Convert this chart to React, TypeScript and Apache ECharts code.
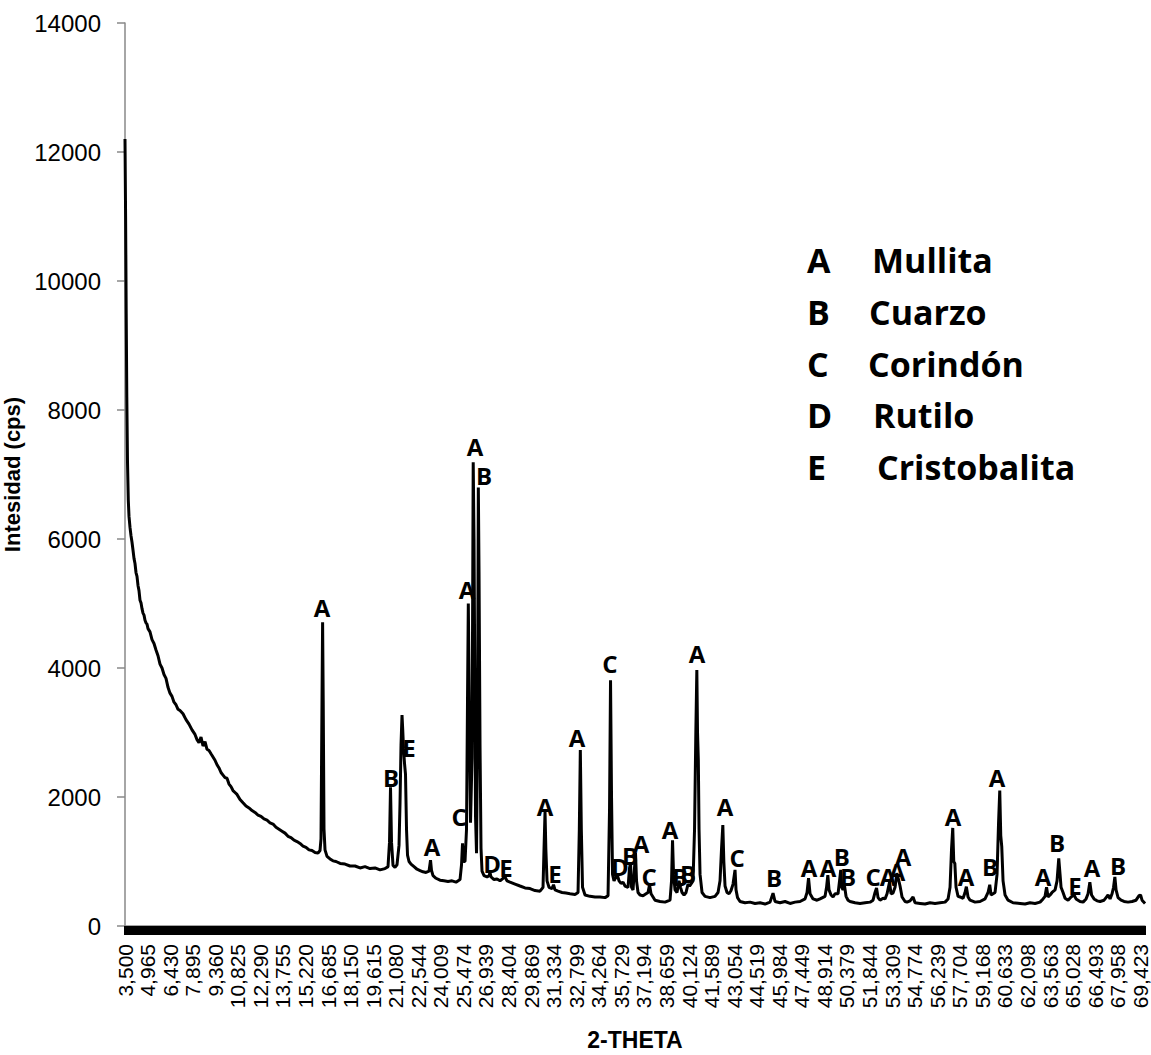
import React, { useEffect, useRef } from "react";
import * as echarts from "echarts";

// X-axis tick labels (2-theta, degrees)
const xTickLabels = [
  "3,500", "4,965", "6,430", "7,895", "9,360", "10,825", "12,290", "13,755", "15,220", "16,685",
  "18,150", "19,615", "21,080", "22,544", "24,009", "25,474", "26,939", "28,404", "29,869", "31,334",
  "32,799", "34,264", "35,729", "37,194", "38,659", "40,124", "41,589", "43,054", "44,519", "45,984",
  "47,449", "48,914", "50,379", "51,844", "53,309", "54,774", "56,239", "57,704", "59,168", "60,633",
  "62,098", "63,563", "65,028", "66,493", "67,958", "69,423",
];

// Diffraction pattern: [2-theta, intensity (cps)]
const pattern: [number, number][] = [
  [3.5, 12200], [3.539, 11000], [3.578, 9500], [3.617, 8200], [3.662, 7200], [3.714, 6600], [3.76, 6350], [3.825, 6180], [3.89, 6050], [3.955, 5950],
  [4.019, 5830], [4.084, 5700], [4.149, 5620], [4.214, 5480], [4.279, 5420], [4.344, 5280], [4.409, 5200], [4.474, 5050], [4.539, 5010], [4.604, 4920],
  [4.669, 4850], [4.734, 4820], [4.799, 4740], [4.864, 4700], [4.929, 4680], [4.994, 4610], [5.123, 4560], [5.253, 4440], [5.383, 4380], [5.513, 4280],
  [5.643, 4190], [5.773, 4060], [5.903, 4000], [6.032, 3900], [6.162, 3840], [6.292, 3700], [6.422, 3610], [6.552, 3560], [6.682, 3470], [6.812, 3430],
  [6.942, 3360], [7.071, 3340], [7.266, 3290], [7.461, 3200], [7.656, 3130], [7.851, 3040], [8.045, 2970], [8.175, 2890], [8.305, 2840], [8.435, 2930],
  [8.565, 2790], [8.695, 2860], [8.825, 2740], [8.955, 2720], [9.084, 2670], [9.214, 2620], [9.344, 2570], [9.474, 2500], [9.604, 2450], [9.734, 2380],
  [9.864, 2340], [9.994, 2300], [10.123, 2290], [10.253, 2200], [10.383, 2160], [10.513, 2100], [10.643, 2070], [10.773, 2040], [10.968, 1960], [11.162, 1910],
  [11.357, 1860], [11.552, 1830], [11.747, 1790], [11.942, 1760], [12.136, 1720], [12.331, 1700], [12.526, 1660], [12.721, 1640], [12.916, 1600], [13.11, 1580],
  [13.305, 1530], [13.5, 1500], [13.695, 1470], [13.89, 1440], [14.084, 1390], [14.279, 1370], [14.474, 1330], [14.669, 1310], [14.864, 1280], [15.058, 1240],
  [15.253, 1220], [15.448, 1180], [15.643, 1170], [15.838, 1140], [16.032, 1130], [16.162, 1170], [16.227, 1350], [16.292, 3500], [16.331, 4710], [16.37, 3500],
  [16.422, 1500], [16.487, 1180], [16.617, 1080], [16.812, 1040], [17.006, 1010], [17.201, 1000], [17.468, 970], [17.786, 960], [18.11, 930], [18.435, 930],
  [18.76, 900], [19.084, 920], [19.409, 890], [19.734, 900], [20.058, 870], [20.383, 890], [20.578, 920], [20.675, 1300], [20.74, 2150], [20.805, 1300],
  [20.903, 940], [21.032, 910], [21.162, 950], [21.292, 1250], [21.357, 1900], [21.422, 2800], [21.487, 3270], [21.532, 3050], [21.584, 2750], [21.649, 2520],
  [21.714, 2350], [21.779, 1500], [21.844, 1100], [21.942, 1000], [22.071, 960], [22.266, 920], [22.461, 880], [22.656, 860], [22.851, 840], [23.045, 830],
  [23.24, 850], [23.338, 1020], [23.403, 860], [23.5, 780], [23.695, 740], [23.955, 710], [24.214, 700], [24.474, 690], [24.734, 700], [24.994, 680],
  [25.253, 720], [25.351, 950], [25.416, 1280], [25.481, 1000], [25.578, 1000], [25.675, 1500], [25.74, 3500], [25.792, 5000], [25.851, 3500], [25.935, 1600],
  [26.032, 2600], [26.11, 7190], [26.162, 6000], [26.26, 1700], [26.325, 1130], [26.39, 3000], [26.442, 6800], [26.487, 5500], [26.552, 2800], [26.617, 1200],
  [26.682, 850], [26.812, 780], [27.006, 760], [27.136, 780], [27.201, 830], [27.266, 760], [27.461, 720], [27.656, 730], [27.851, 700], [28.045, 740],
  [28.175, 760], [28.305, 700], [28.5, 680], [28.825, 650], [29.149, 620], [29.474, 590], [29.799, 580], [30.123, 550], [30.448, 540], [30.643, 600],
  [30.708, 1200], [30.773, 1770], [30.825, 1200], [30.903, 700], [31.032, 600], [31.227, 580], [31.325, 640], [31.422, 560], [31.617, 540], [31.877, 520],
  [32.136, 510], [32.396, 500], [32.721, 490], [32.916, 520], [33.0, 1500], [33.065, 2730], [33.13, 1500], [33.208, 600], [33.37, 480], [33.695, 460],
  [34.019, 450], [34.344, 450], [34.669, 440], [34.864, 470], [34.961, 1800], [35.026, 3810], [35.091, 2000], [35.156, 800], [35.253, 700], [35.383, 760],
  [35.481, 780], [35.578, 700], [35.708, 660], [35.838, 680], [35.968, 620], [36.162, 600], [36.26, 900], [36.325, 980], [36.39, 600], [36.487, 560],
  [36.584, 900], [36.649, 1130], [36.714, 700], [36.812, 520], [36.942, 480], [37.136, 470], [37.331, 500], [37.461, 520], [37.558, 640], [37.656, 500],
  [37.916, 400], [38.24, 380], [38.565, 370], [38.89, 400], [38.987, 700], [39.052, 1330], [39.117, 800], [39.214, 560], [39.344, 520], [39.474, 700],
  [39.571, 600], [39.669, 520], [39.799, 480], [39.929, 520], [40.058, 650], [40.156, 620], [40.253, 650], [40.383, 700], [40.481, 1500], [40.565, 3000],
  [40.63, 3970], [40.675, 3000], [40.727, 2570], [40.773, 1500], [40.838, 800], [40.968, 520], [41.162, 460], [41.487, 440], [41.812, 460], [42.006, 520],
  [42.136, 700], [42.234, 1200], [42.318, 1565], [42.383, 1000], [42.461, 620], [42.591, 520], [42.721, 500], [42.851, 550], [42.981, 650], [43.11, 870],
  [43.175, 560], [43.273, 440], [43.435, 380], [43.76, 360], [44.084, 370], [44.409, 350], [44.734, 360], [45.058, 340], [45.383, 370], [45.578, 510],
  [45.708, 380], [46.032, 360], [46.357, 380], [46.682, 350], [47.006, 370], [47.331, 380], [47.656, 420], [47.786, 520], [47.883, 740], [47.981, 500],
  [48.175, 420], [48.435, 400], [48.63, 420], [48.955, 460], [49.052, 600], [49.136, 790], [49.214, 560], [49.344, 480], [49.474, 450], [49.604, 500],
  [49.799, 500], [49.896, 700], [49.974, 870], [50.039, 600], [50.123, 560], [50.221, 620], [50.318, 460], [50.448, 400], [50.578, 380], [50.903, 360],
  [51.227, 350], [51.552, 360], [51.877, 370], [52.071, 400], [52.201, 520], [52.299, 590], [52.396, 440], [52.526, 400], [52.721, 430], [52.851, 420],
  [52.981, 500], [53.143, 680], [53.24, 500], [53.37, 510], [53.5, 600], [53.617, 820], [53.727, 720], [53.825, 620], [53.955, 450], [54.149, 380],
  [54.279, 370], [54.474, 390], [54.669, 450], [54.799, 360], [55.123, 350], [55.448, 340], [55.773, 360], [56.097, 350], [56.422, 360], [56.747, 370],
  [56.942, 420], [57.071, 600], [57.169, 1200], [57.247, 1520], [57.312, 1000], [57.383, 970], [57.461, 600], [57.591, 460], [57.721, 450], [57.916, 430],
  [58.045, 520], [58.13, 610], [58.24, 450], [58.37, 400], [58.695, 370], [59.019, 380], [59.344, 420], [59.539, 520], [59.649, 640], [59.734, 480],
  [59.864, 500], [59.994, 520], [60.123, 800], [60.221, 1600], [60.299, 2100], [60.364, 1400], [60.429, 1230], [60.513, 700], [60.643, 480], [60.838, 400],
  [61.162, 360], [61.617, 350], [61.942, 340], [62.266, 360], [62.591, 350], [62.916, 370], [63.11, 420], [63.24, 460], [63.338, 600], [63.435, 450],
  [63.565, 480], [63.695, 520], [63.89, 560], [64.019, 700], [64.13, 1050], [64.214, 800], [64.279, 600], [64.409, 520], [64.539, 430], [64.734, 400],
  [64.929, 450], [65.123, 480], [65.253, 420], [65.513, 380], [65.708, 370], [65.903, 420], [66.032, 500], [66.149, 680], [66.26, 480], [66.422, 420],
  [66.617, 390], [66.812, 380], [67.071, 400], [67.201, 440], [67.331, 480], [67.461, 420], [67.591, 500], [67.688, 600], [67.773, 760], [67.851, 560],
  [67.981, 440], [68.175, 400], [68.37, 380], [68.63, 370], [68.89, 380], [69.149, 400], [69.344, 470], [69.442, 480], [69.539, 400], [69.734, 350],
];

// Peak annotations: position (2-theta, cps) and phase letter
const peakTheta = [
  16.29, 20.77, 21.94, 23.44, 25.19, 25.71, 26.23, 26.81, 27.33, 28.24,
  30.77, 31.42, 32.85, 34.99, 35.64, 36.29, 37.01, 37.53, 38.89, 39.54,
  40.06, 40.64, 42.46, 43.24, 45.64, 47.92, 49.15, 50.05, 50.45, 52.07,
  53.05, 53.63, 54.02, 57.27, 58.11, 59.67, 60.12, 63.11, 64.02, 65.19,
  66.29, 67.98,
];
const peakHeight = [
  4945, 2310, 2760, 1225, 1690, 5210, 7430, 6990, 975, 900,
  1845, 820, 2930, 4075, 915, 1100, 1285, 760, 1490, 760,
  820, 4230, 1845, 1055, 745, 900, 900, 1070, 775, 775,
  775, 840, 1070, 1690, 760, 915, 2310, 775, 1300, 635,
  900, 945,
];
const peakPhase = [
  "A", "B", "E", "A", "C", "A", "A", "B", "D", "E",
  "A", "E", "A", "C", "D", "B", "A", "C", "A", "B",
  "B", "A", "A", "C", "B", "A", "A", "B", "B", "C",
  "A", "A", "A", "A", "A", "B", "A", "A", "B", "E",
  "A", "B",
];

const legendKeys = ["A", "B", "C", "D", "E"];
const legendNames = ["Mullita", "Cuarzo", "Corindón", "Rutilo", "Cristobalita"];

const X0 = 3.5;
const STEP = 1.465;
const X_END = 69.73;

export default function App() {
  const ref = useRef<HTMLDivElement>(null);

  useEffect(() => {
    if (!ref.current) return;
    const chart = echarts.init(ref.current, null, { renderer: "svg" });

    const legendNameX = [872, 869, 868, 873, 877];
    const legendRowY = [260, 311.5, 363.5, 415, 466.5];
    const legendFont = 'bold 34px "Open Sans"';

    const graphics: any[] = [];
    legendKeys.forEach((k, i) => {
      graphics.push({
        type: "text",
        x: 807,
        y: legendRowY[i],
        style: { text: k, font: legendFont, fill: "#000", verticalAlign: "middle", textVerticalAlign: "middle" },
      });
      graphics.push({
        type: "text",
        x: legendNameX[i],
        y: legendRowY[i],
        style: { text: legendNames[i], font: legendFont, fill: "#000", verticalAlign: "middle", textVerticalAlign: "middle" },
      });
    });

    const option: any = {
      animation: false,
      backgroundColor: "#fff",
      grid: { left: 125, right: 6, top: 23, bottom: 129, containLabel: false, outerBoundsMode: "none" },
      xAxis: {
        type: "value",
        min: 0,
        max: X_END - X0,
        interval: STEP,
        name: "2-THETA",
        nameLocation: "middle",
        nameGap: 102,
        nameTextStyle: { fontFamily: '"Liberation Sans", Arial', fontWeight: "bold", fontSize: 23, color: "#000" },
        axisLine: { show: true, onZero: false, lineStyle: { color: "#888", width: 1.5 } },
        axisTick: { show: true, length: 9, lineStyle: { color: "#000", width: 2 } },
        minorTick: { show: true, splitNumber: 25, length: 9, lineStyle: { color: "#000", width: 2 } },
        splitLine: { show: false },
        axisLabel: {
          rotate: 90,
          margin: 18,
          fontFamily: '"Liberation Sans", Arial',
          fontSize: 21,
          color: "#000",
          formatter: (v: number) => {
            const k = Math.round(v / STEP);
            return Math.abs(v - k * STEP) < 1e-3 && k < xTickLabels.length ? xTickLabels[k] : "";
          },
        },
      },
      yAxis: {
        type: "value",
        min: 0,
        max: 14000,
        interval: 2000,
        name: "Intesidad (cps)",
        nameLocation: "middle",
        nameRotate: 90,
        nameGap: 95,
        nameTextStyle: { fontFamily: '"Liberation Sans", Arial', fontWeight: "bold", fontSize: 22, color: "#000" },
        axisLine: { show: true, lineStyle: { color: "#888", width: 1.5 } },
        axisTick: { show: true, length: 8, lineStyle: { color: "#888", width: 1.5 } },
        splitLine: { show: false },
        axisLabel: {
          margin: 24,
          fontFamily: '"Liberation Sans", Arial',
          fontSize: 24,
          color: "#000",
          formatter: (v: number) => String(v),
        },
      },
      series: [
        {
          type: "line",
          data: pattern.map(([t, c]) => [t - X0, c]),
          showSymbol: false,
          symbol: "none",
          lineStyle: { color: "#000", width: 3 },
          z: 3,
        },
        {
          type: "scatter",
          data: peakTheta.map((t, i) => [t - X0, peakHeight[i], peakPhase[i]]),
          symbolSize: 0,
          itemStyle: { color: "#000", opacity: 1 },
          silent: true,
          z: 4,
          label: {
            show: true,
            position: "inside",
            formatter: (p: any) => p.value[2],
            fontFamily: '"Open Sans"',
            fontWeight: "bold",
            fontSize: 24,
            color: "#000",
            textBorderWidth: 0,
            opacity: 1,
          },
        },
      ],
      graphic: graphics,
    };

    chart.setOption(option);
    return () => chart.dispose();
  }, []);

  return (
    <div
      ref={ref}
      style={{ position: "absolute", left: 0, top: 0, width: 1151, height: 1055, background: "#fff" }}
    />
  );
}
